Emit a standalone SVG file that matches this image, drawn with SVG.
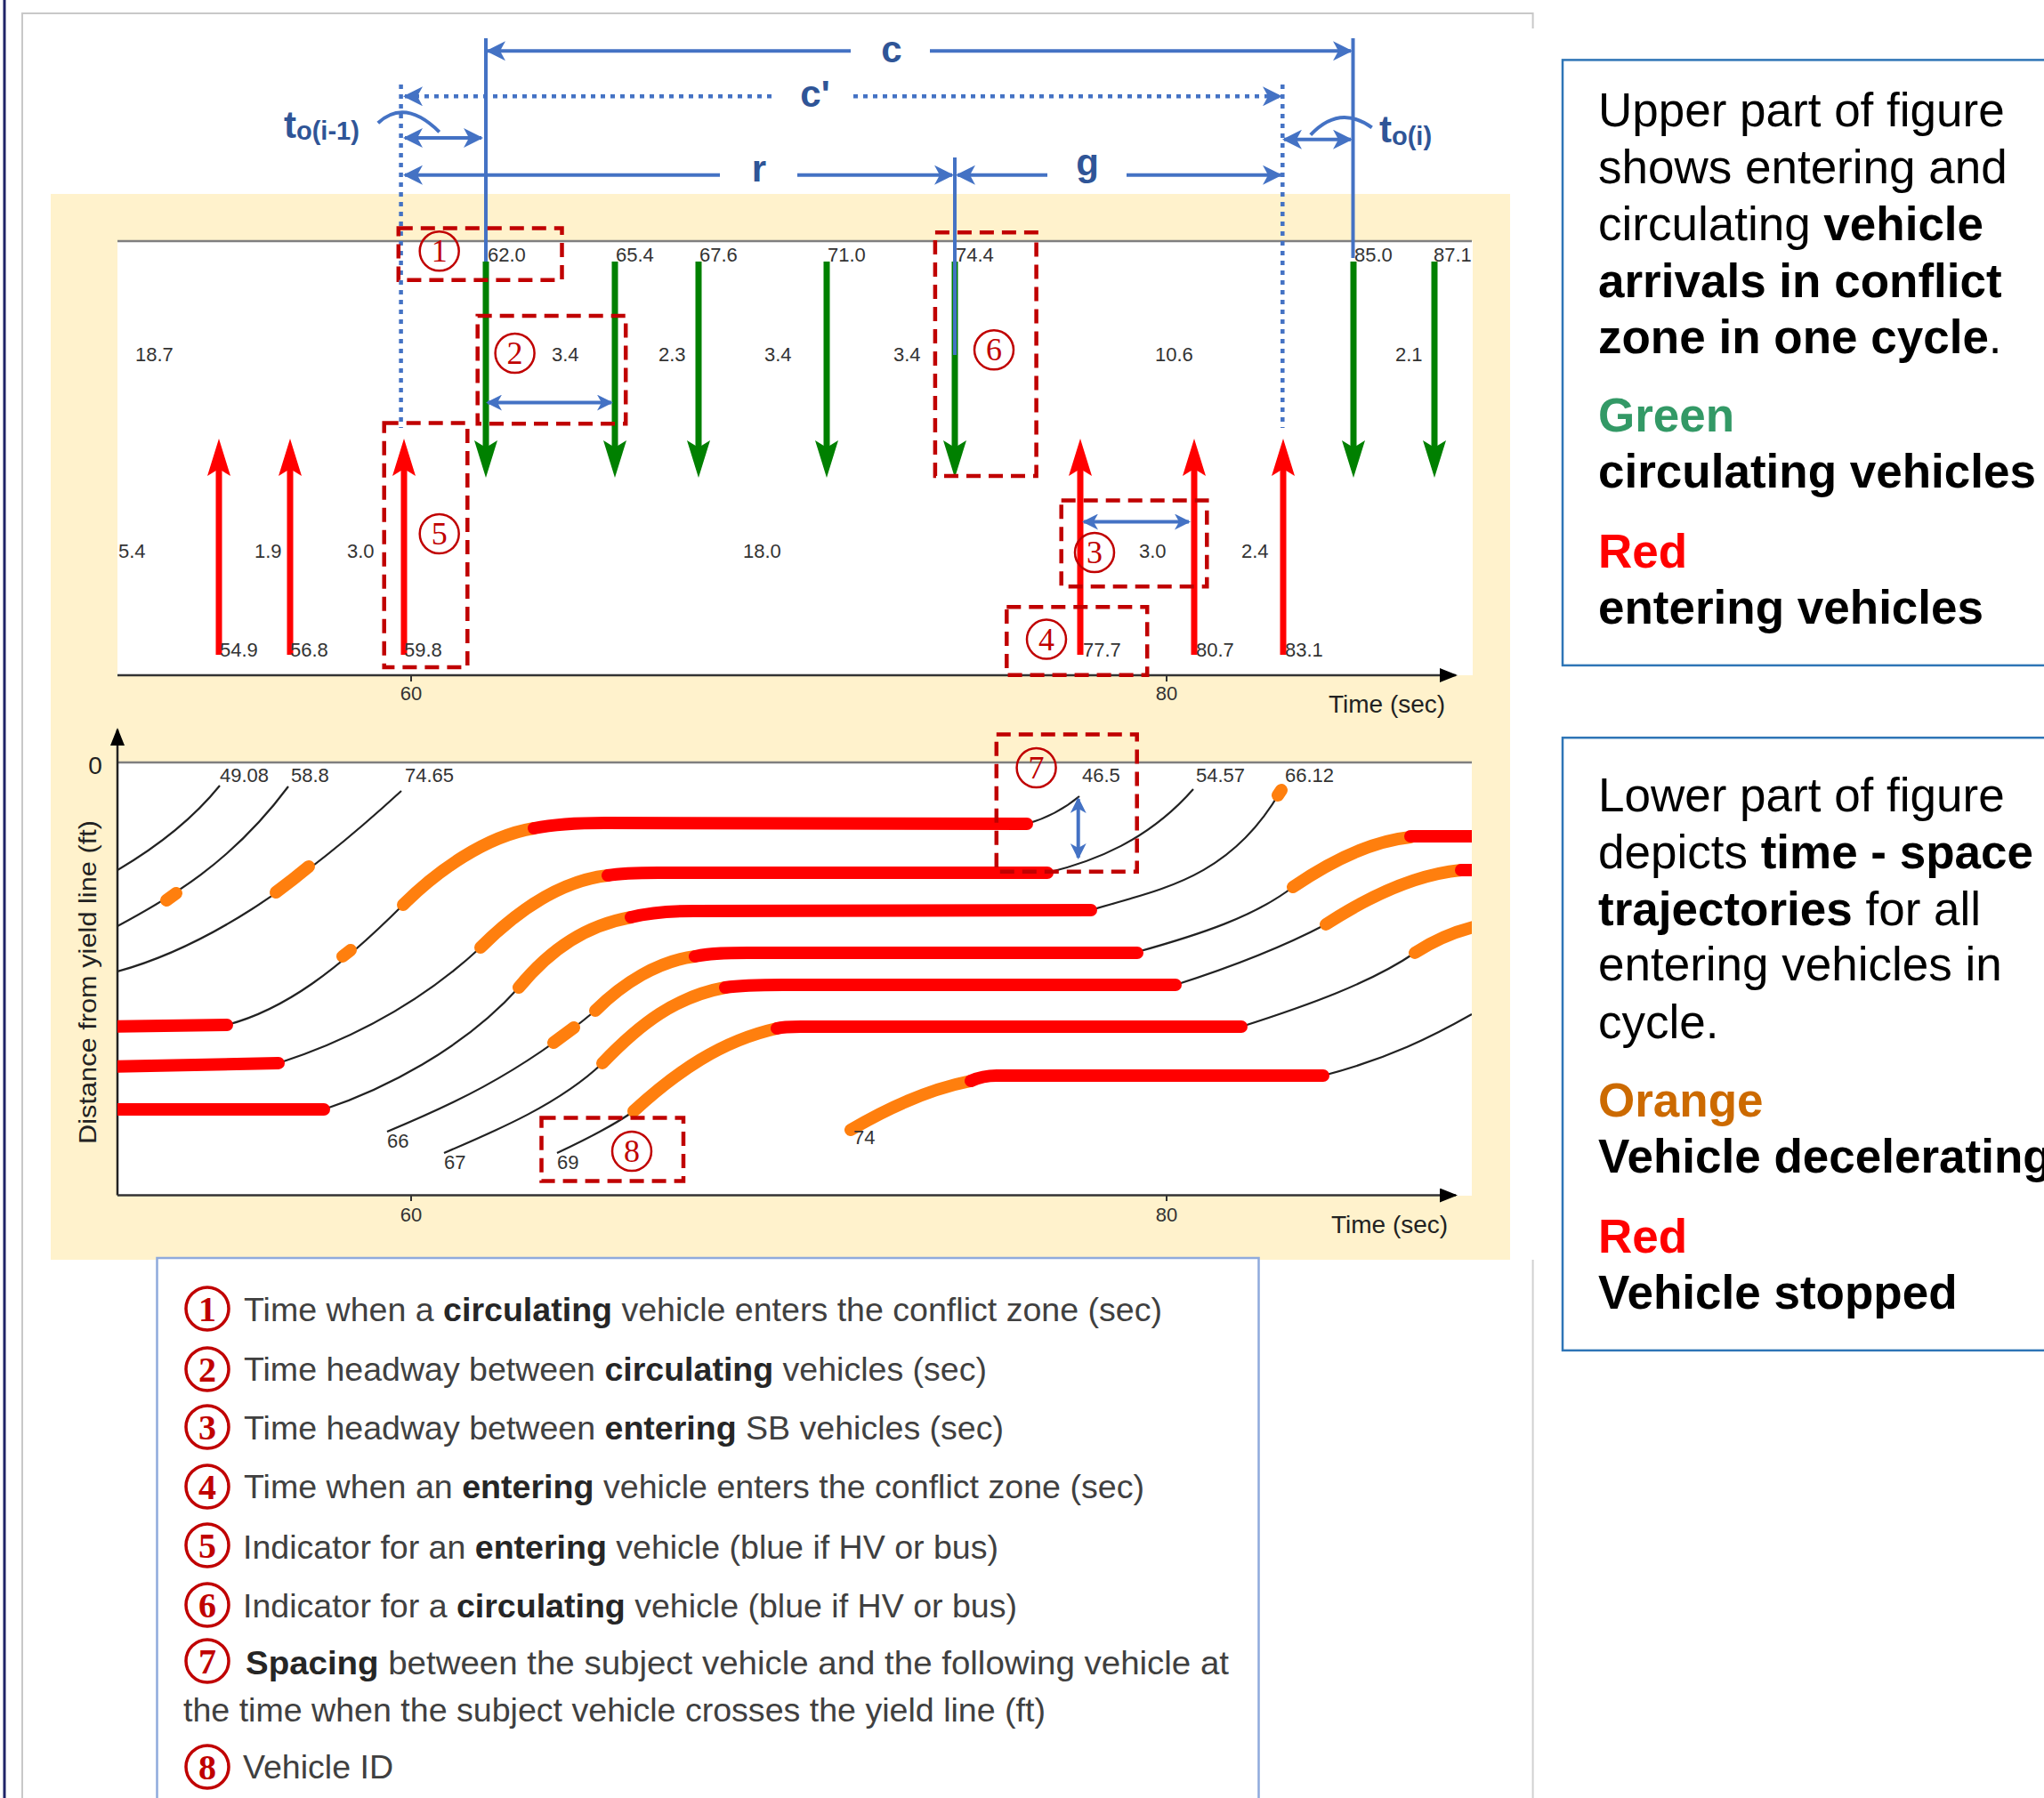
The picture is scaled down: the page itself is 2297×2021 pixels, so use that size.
<svg xmlns="http://www.w3.org/2000/svg" width="2297" height="2021" viewBox="0 0 2297 2021">
<style>
.num{font-family:"Liberation Sans",Arial,sans-serif;font-size:22px;fill:#333}
.ax{font-family:"Liberation Sans",Arial,sans-serif;font-size:28px;fill:#222}
.dim{font-family:"Liberation Sans",Arial,sans-serif;font-weight:bold;fill:#2f5597}
.dash{fill:none;stroke:#c00000;stroke-width:4.5;stroke-dasharray:16 9}
.cn{fill:none;stroke:#c00000;stroke-width:2.5}
.cd{font-family:"Liberation Serif","Times New Roman",serif;font-size:36px;fill:#c00000;text-anchor:middle}
.ln{fill:none;stroke:#c00000;stroke-width:3.5}
.ld{font-family:"Liberation Serif","Times New Roman",serif;font-size:40px;font-weight:bold;fill:#c00000;text-anchor:middle}
.blu{stroke:#4472c4;stroke-width:4;fill:none}
.dot{stroke:#4472c4;stroke-width:4.5;stroke-dasharray:5 6;fill:none}
.garr{stroke:#008000;stroke-width:7;marker-end:url(#gh)}
.rarr{stroke:#ff0000;stroke-width:7;marker-end:url(#rh)}
.tr{fill:none;stroke:#222;stroke-width:2.2}
.or{fill:none;stroke:#ff7f0e;stroke-width:14;stroke-linecap:round}
.rd{fill:none;stroke:#ff0000;stroke-width:14;stroke-linecap:round}
.leg{font-family:"Liberation Sans",Arial,sans-serif;font-size:36px;fill:#404040}
.leg .b{font-weight:bold;fill:#262626}
.info{font-family:"Liberation Sans",Arial,sans-serif;font-size:53px;fill:#000}
.info .b,.info.b{font-weight:bold}
.info.green{font-weight:bold;fill:#339966}
.info.orange{font-weight:bold;fill:#cc6a00}
.info.red{font-weight:bold;fill:#ff0000}
</style>
<defs>
<marker id="gh" markerUnits="userSpaceOnUse" viewBox="0 0 42 26" refX="20" refY="13" markerWidth="42" markerHeight="26" orient="auto"><path d="M0,0 L42,13 L0,26 L8,13 Z" fill="#008000"/></marker>
<marker id="rh" markerUnits="userSpaceOnUse" viewBox="0 0 42 26" refX="20" refY="13" markerWidth="42" markerHeight="26" orient="auto"><path d="M0,0 L42,13 L0,26 L8,13 Z" fill="#ff0000"/></marker>
<marker id="ba" markerUnits="userSpaceOnUse" viewBox="0 0 22 22" refX="20" refY="11" markerWidth="22" markerHeight="22" orient="auto-start-reverse"><path d="M0,0 L22,11 L0,22 L6,11 Z" fill="#4472c4"/></marker>
<marker id="bs" markerUnits="userSpaceOnUse" viewBox="0 0 18 18" refX="16" refY="9" markerWidth="18" markerHeight="18" orient="auto-start-reverse"><path d="M0,0 L18,9 L0,18 L5,9 Z" fill="#4472c4"/></marker>
<marker id="kh" markerUnits="userSpaceOnUse" viewBox="0 0 20 16" refX="18" refY="8" markerWidth="20" markerHeight="16" orient="auto"><path d="M0,0 L20,8 L0,16 Z" fill="#000"/></marker>
<clipPath id="plot2"><rect x="132" y="857" width="1522" height="487"/></clipPath>
</defs>
<rect width="2297" height="2021" fill="#fff"/>
<g id="frame">
<line x1="5" y1="0" x2="5" y2="2021" stroke="#1f2468" stroke-width="3"/>
<path d="M25,2021 V15 H1722.6 V32" fill="none" stroke="#c8c8c8" stroke-width="2"/>
<line x1="1722.6" y1="1416" x2="1722.6" y2="2021" stroke="#d0d0d0" stroke-width="2"/>
<rect x="57" y="218" width="1640" height="1198" fill="#fff2cc"/>
</g>
<g id="upper-chart">
<rect x="132" y="271" width="1523" height="488" fill="#fff"/>
<line x1="132" y1="271" x2="1654" y2="271" stroke="#7f7f7f" stroke-width="2.5"/>
<line x1="132" y1="759" x2="1636" y2="759" stroke="#333" stroke-width="2.5" marker-end="url(#kh)"/>
<line x1="462" y1="759" x2="462" y2="766" stroke="#333" stroke-width="2"/>
<line x1="1311" y1="759" x2="1311" y2="766" stroke="#333" stroke-width="2"/>
<text class="num" x="462" y="787" text-anchor="middle">60</text>
<text class="num" x="1311" y="787" text-anchor="middle">80</text>
<text class="ax" x="1493" y="801">Time (sec)</text>
<g id="circulating-arrows">
<line class="garr" x1="546" y1="294" x2="546" y2="515"/>
<line class="garr" x1="691" y1="294" x2="691" y2="515"/>
<line class="garr" x1="785" y1="294" x2="785" y2="515"/>
<line class="garr" x1="929" y1="294" x2="929" y2="515"/>
<line class="garr" x1="1073" y1="294" x2="1073" y2="515"/>
<line class="garr" x1="1521" y1="294" x2="1521" y2="515"/>
<line class="garr" x1="1612" y1="294" x2="1612" y2="515"/>
</g>
<g id="entering-arrows">
<line class="rarr" x1="246" y1="736" x2="246" y2="515"/>
<line class="rarr" x1="326" y1="736" x2="326" y2="515"/>
<line class="rarr" x1="454" y1="736" x2="454" y2="515"/>
<line class="rarr" x1="1214" y1="736" x2="1214" y2="515"/>
<line class="rarr" x1="1342" y1="736" x2="1342" y2="515"/>
<line class="rarr" x1="1442" y1="736" x2="1442" y2="515"/>
</g>
<g id="upper-labels">
<text class="num" x="548" y="294">62.0</text>
<text class="num" x="692" y="294">65.4</text>
<text class="num" x="786" y="294">67.6</text>
<text class="num" x="930" y="294">71.0</text>
<text class="num" x="1074" y="294">74.4</text>
<text class="num" x="1522" y="294">85.0</text>
<text class="num" x="1611" y="294">87.1</text>
<text class="num" x="152" y="406">18.7</text>
<text class="num" x="620" y="406">3.4</text>
<text class="num" x="740" y="406">2.3</text>
<text class="num" x="859" y="406">3.4</text>
<text class="num" x="1004" y="406">3.4</text>
<text class="num" x="1298" y="406">10.6</text>
<text class="num" x="1568" y="406">2.1</text>
<text class="num" x="133" y="627">5.4</text>
<text class="num" x="286" y="627">1.9</text>
<text class="num" x="390" y="627">3.0</text>
<text class="num" x="835" y="627">18.0</text>
<text class="num" x="1280" y="627">3.0</text>
<text class="num" x="1395" y="627">2.4</text>
<text class="num" x="247" y="738">54.9</text>
<text class="num" x="326" y="738">56.8</text>
<text class="num" x="454" y="738">59.8</text>
<text class="num" x="1217" y="738">77.7</text>
<text class="num" x="1344" y="738">80.7</text>
<text class="num" x="1444" y="738">83.1</text>
</g>
</g>
<g id="lower-chart">
<rect x="132" y="857" width="1522" height="487" fill="#fff"/>
<line x1="132" y1="857" x2="1654" y2="857" stroke="#7f7f7f" stroke-width="2.5"/>
<line x1="132" y1="1343.5" x2="132" y2="820" stroke="#222" stroke-width="2.5" marker-end="url(#kh)"/>
<line x1="132" y1="1343.5" x2="1636" y2="1343.5" stroke="#333" stroke-width="2.5" marker-end="url(#kh)"/>
<line x1="462" y1="1343.5" x2="462" y2="1350" stroke="#333" stroke-width="2"/>
<line x1="1311" y1="1343.5" x2="1311" y2="1350" stroke="#333" stroke-width="2"/>
<text class="num" x="462" y="1373" text-anchor="middle">60</text>
<text class="num" x="1311" y="1373" text-anchor="middle">80</text>
<text class="ax" x="1496" y="1386">Time (sec)</text>
<text class="ax" x="107" y="870" text-anchor="middle" font-size="26">0</text>
<text class="ax" transform="translate(108,1104) rotate(-90)" text-anchor="middle" textLength="364" lengthAdjust="spacingAndGlyphs">Distance from yield line (ft)</text>
<g id="trajectories" clip-path="url(#plot2)">
<path class="tr" d="M132,978 Q205,935 247,883"/>
<path class="tr" d="M132,1041 C190,1010 260,970 324,884"/>
<path class="tr" d="M132,1092 C230,1065 330,1000 451,889"/>
<path class="tr" d="M255,1152 C320,1135 380,1090 453,1017 M1154,926 C1175,920 1195,910 1213,895"/>
<path class="tr" d="M313,1195 C390,1170 470,1130 540,1065 M1177,981 C1230,968 1290,945 1341,887"/>
<path class="tr" d="M364,1247 C430,1225 520,1180 583,1110 M1226,1023 C1300,1000 1380,990 1438,891"/>
<path class="tr" d="M435,1272 C500,1245 580,1210 669,1136 M1278,1070 C1350,1050 1410,1030 1453,997"/>
<path class="tr" d="M499,1296 C560,1270 630,1240 677,1195 M1321,1107 C1390,1085 1450,1060 1490,1039"/>
<path class="tr" d="M626,1296 C660,1280 690,1265 712,1249 M1395,1154 C1470,1130 1540,1105 1590,1071"/>
<path class="tr" d="M1487,1209 C1560,1190 1610,1165 1654,1140"/>
<path class="or" d="M187,1012 L198,1004"/>
<path class="or" d="M310,1003 Q329,989 347,974"/>
<path class="or" d="M385,1075 L394,1068 M453,1017 C490,980 545,940 600,931"/>
<path class="or" d="M540,1065 C580,1025 630,990 683,984"/>
<path class="or" d="M583,1110 C620,1065 660,1040 709,1031 M1436,894 L1440,888"/>
<path class="or" d="M622,1172 L645,1155 M669,1136 C700,1105 740,1080 781,1075 M1453,997 C1500,965 1545,945 1585,941"/>
<path class="or" d="M677,1195 C720,1150 760,1120 815,1110 M1490,1039 C1550,1000 1600,982 1642,978"/>
<path class="or" d="M712,1249 C760,1205 810,1170 873,1156 M1590,1071 C1610,1058 1630,1048 1660,1041"/>
<path class="or" d="M956,1270 C990,1250 1040,1225 1091,1215"/>
<path class="rd" d="M120,1154 L255,1152 M600,931 C625,926 650,925 680,925 L1154,926"/>
<path class="rd" d="M120,1199 L313,1195 M683,984 C700,981 720,981 740,981 L1177,981"/>
<path class="rd" d="M120,1247 L364,1247 M709,1031 C730,1026 750,1024 780,1024 L1226,1023"/>
<path class="rd" d="M781,1075 C800,1071 820,1071 840,1071 L1278,1071 M1585,940 L1670,940"/>
<path class="rd" d="M815,1110 C835,1107 860,1107 880,1107 L1321,1107 M1642,978 L1670,978"/>
<path class="rd" d="M873,1156 C880,1154 890,1154 900,1154 L1395,1154"/>
<path class="rd" d="M1091,1215 C1100,1211 1110,1209 1120,1209 L1487,1209"/>
</g>
<g id="lower-labels">
<text class="num" x="247" y="879">49.08</text>
<text class="num" x="327" y="879">58.8</text>
<text class="num" x="455" y="879">74.65</text>
<text class="num" x="1216" y="879">46.5</text>
<text class="num" x="1344" y="879">54.57</text>
<text class="num" x="1444" y="879">66.12</text>
<text class="num" x="435" y="1290">66</text>
<text class="num" x="499" y="1314">67</text>
<text class="num" x="626" y="1314">69</text>
<text class="num" x="959" y="1286">74</text>
</g>
</g>
<g id="connectors">
<line class="blu" x1="546" y1="43" x2="546" y2="294"/>
<line class="blu" x1="1520.5" y1="43" x2="1520.5" y2="290"/>
<line class="blu" x1="1073" y1="177" x2="1073" y2="399"/>
<line class="dot" x1="450.6" y1="95" x2="450.6" y2="481"/>
<line class="dot" x1="1441.3" y1="95" x2="1441.3" y2="481"/>
<line class="blu" x1="548" y1="57.3" x2="956" y2="57.3" marker-start="url(#ba)"/>
<line class="blu" x1="1045" y1="57.3" x2="1518" y2="57.3" marker-end="url(#ba)"/>
<line class="dot" x1="455" y1="108.3" x2="868" y2="108.3" marker-start="url(#ba)"/>
<line class="dot" x1="959" y1="108.3" x2="1439" y2="108.3" marker-end="url(#ba)"/>
<line class="blu" x1="455" y1="196.7" x2="809" y2="196.7" marker-start="url(#ba)"/>
<line class="blu" x1="896" y1="196.7" x2="1070" y2="196.7" marker-end="url(#ba)"/>
<line class="blu" x1="1076" y1="196.7" x2="1177" y2="196.7" marker-start="url(#ba)"/>
<line class="blu" x1="1266" y1="196.7" x2="1439" y2="196.7" marker-end="url(#ba)"/>
<line class="blu" x1="455" y1="155" x2="541" y2="155" marker-start="url(#ba)" marker-end="url(#ba)"/>
<line class="blu" x1="1443" y1="156.7" x2="1518" y2="156.7" marker-start="url(#ba)" marker-end="url(#ba)"/>
<path class="blu" stroke-width="3.5" d="M424.8,138.3 Q455,110 493.7,148.3"/>
<path class="blu" stroke-width="3.5" d="M1472.8,151.7 Q1505,117 1541.7,143.3"/>
<line class="blu" x1="548" y1="452.6" x2="687" y2="452.6" marker-start="url(#bs)" marker-end="url(#bs)"/>
<line class="blu" x1="1218" y1="586.5" x2="1336" y2="586.5" marker-start="url(#bs)" marker-end="url(#bs)"/>
<line class="blu" x1="1211.7" y1="898" x2="1211.7" y2="964" marker-start="url(#bs)" marker-end="url(#bs)"/>
</g>
<g id="dimension-labels">
<text class="dim" x="1002" y="70" font-size="42" text-anchor="middle">c</text>
<text class="dim" x="916" y="120" font-size="42" text-anchor="middle">c'</text>
<text class="dim" x="853" y="204" font-size="42" text-anchor="middle">r</text>
<text class="dim" x="1222" y="197" font-size="42" text-anchor="middle">g</text>
<text class="dim" x="319" y="155" font-size="42">t<tspan font-size="29" dy="2">o(i-1)</tspan></text>
<text class="dim" x="1550" y="160" font-size="42">t<tspan font-size="29" dy="3">o(i)</tspan></text>
</g>
<g id="callouts">
<rect class="dash" x="447.8" y="256.6" width="183.7" height="58.2"/>
<rect class="dash" x="536.7" y="355" width="166.5" height="121.3"/>
<rect class="dash" x="431.7" y="475.5" width="93.6" height="274.5"/>
<rect class="dash" x="1050.9" y="261.2" width="113.7" height="273.7"/>
<rect class="dash" x="1192.7" y="562.4" width="163.6" height="96.8"/>
<rect class="dash" x="1131.3" y="682.2" width="157.9" height="76.5"/>
<rect class="dash" x="1119.8" y="825.5" width="157.9" height="154.2"/>
<rect class="dash" x="608.5" y="1256.5" width="159.5" height="71.1"/>
<g id="c1"><circle class="cn" cx="493.7" cy="282.3" r="22"/><text class="cd" x="493.7" y="294.3">1</text></g>
<g id="c2"><circle class="cn" cx="578.6" cy="397" r="22"/><text class="cd" x="578.6" y="409">2</text></g>
<g id="c3"><circle class="cn" cx="1230" cy="621" r="22"/><text class="cd" x="1230" y="633">3</text></g>
<g id="c4"><circle class="cn" cx="1176" cy="718.6" r="22"/><text class="cd" x="1176" y="730.6">4</text></g>
<g id="c5"><circle class="cn" cx="493.7" cy="600" r="22"/><text class="cd" x="493.7" y="612">5</text></g>
<g id="c6"><circle class="cn" cx="1117" cy="393.3" r="22"/><text class="cd" x="1117" y="405.3">6</text></g>
<g id="c7"><circle class="cn" cx="1164.6" cy="863" r="22"/><text class="cd" x="1164.6" y="875">7</text></g>
<g id="c8"><circle class="cn" cx="710" cy="1294" r="22"/><text class="cd" x="710" y="1306">8</text></g>
</g>
<g id="legend">
<rect x="176.5" y="1414" width="1238" height="640" fill="#fff" stroke="#8faadc" stroke-width="2.5"/>
<circle class="ln" cx="233" cy="1471" r="24"/><text class="ld" x="233" y="1485">1</text>
<circle class="ln" cx="233" cy="1539" r="24"/><text class="ld" x="233" y="1553">2</text>
<circle class="ln" cx="233" cy="1604" r="24"/><text class="ld" x="233" y="1618">3</text>
<circle class="ln" cx="233" cy="1671" r="24"/><text class="ld" x="233" y="1685">4</text>
<circle class="ln" cx="233" cy="1737" r="24"/><text class="ld" x="233" y="1751">5</text>
<circle class="ln" cx="233" cy="1804" r="24"/><text class="ld" x="233" y="1818">6</text>
<circle class="ln" cx="233" cy="1867" r="24"/><text class="ld" x="233" y="1881">7</text>
<circle class="ln" cx="233" cy="1986" r="24"/><text class="ld" x="233" y="2000">8</text>
<text class="leg" x="274" y="1485" textLength="1032" lengthAdjust="spacingAndGlyphs">Time when a <tspan class="b">circulating</tspan> vehicle enters the conflict zone (sec)</text>
<text class="leg" x="274" y="1552" textLength="835" lengthAdjust="spacingAndGlyphs">Time headway between <tspan class="b">circulating</tspan> vehicles (sec)</text>
<text class="leg" x="274" y="1618" textLength="854" lengthAdjust="spacingAndGlyphs">Time headway between <tspan class="b">entering</tspan> SB vehicles (sec)</text>
<text class="leg" x="274" y="1684" textLength="1012" lengthAdjust="spacingAndGlyphs">Time when an <tspan class="b">entering</tspan> vehicle enters the conflict zone (sec)</text>
<text class="leg" x="273" y="1752" textLength="849" lengthAdjust="spacingAndGlyphs">Indicator for an <tspan class="b">entering</tspan> vehicle (blue if HV or bus)</text>
<text class="leg" x="273" y="1818" textLength="870" lengthAdjust="spacingAndGlyphs">Indicator for a <tspan class="b">circulating</tspan> vehicle (blue if HV or bus)</text>
<text class="leg" x="276" y="1882" textLength="1105" lengthAdjust="spacingAndGlyphs"><tspan class="b">Spacing</tspan> between the subject vehicle and the following vehicle at</text>
<text class="leg" x="206" y="1935" textLength="969" lengthAdjust="spacingAndGlyphs">the time when the subject vehicle crosses the yield line (ft)</text>
<text class="leg" x="273" y="1999" textLength="169" lengthAdjust="spacingAndGlyphs">Vehicle ID</text>
</g>
<g id="info-upper">
<rect x="1756" y="67.4" width="600" height="680.5" fill="#fff" stroke="#2e75b6" stroke-width="2.5"/>
<text class="info" x="1796" y="142">Upper part of figure</text>
<text class="info" x="1796" y="206">shows entering and</text>
<text class="info" x="1796" y="270">circulating <tspan class="b">vehicle</tspan></text>
<text class="info b" x="1796" y="334">arrivals in conflict</text>
<text class="info" x="1796" y="397"><tspan class="b">zone in one cycle</tspan>.</text>
<text class="info green" x="1796" y="485">Green</text>
<text class="info b" x="1796" y="548">circulating vehicles</text>
<text class="info red" x="1796" y="638">Red</text>
<text class="info b" x="1796" y="701">entering vehicles</text>
</g>
<g id="info-lower">
<rect x="1756" y="829.2" width="600" height="688.7" fill="#fff" stroke="#2e75b6" stroke-width="2.5"/>
<text class="info" x="1796" y="912">Lower part of figure</text>
<text class="info" x="1796" y="976">depicts <tspan class="b">time - space</tspan></text>
<text class="info" x="1796" y="1040"><tspan class="b">trajectories</tspan> for all</text>
<text class="info" x="1796" y="1102">entering vehicles in</text>
<text class="info" x="1796" y="1167">cycle.</text>
<text class="info orange" x="1796" y="1255">Orange</text>
<text class="info b" x="1796" y="1318">Vehicle decelerating</text>
<text class="info red" x="1796" y="1408">Red</text>
<text class="info b" x="1796" y="1471">Vehicle stopped</text>
</g>
</svg>
